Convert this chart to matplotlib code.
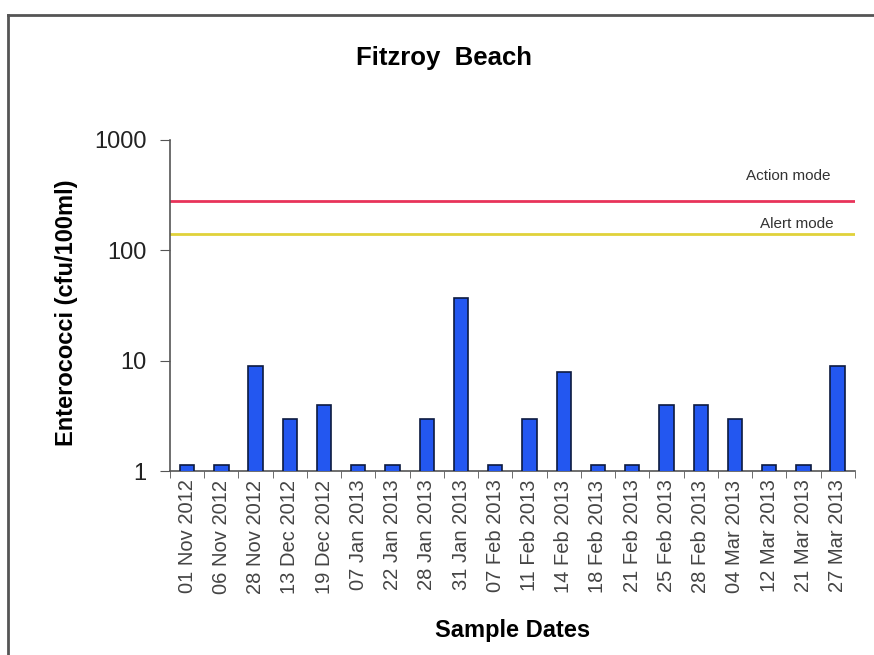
import matplotlib
matplotlib.use("Agg")
import matplotlib.pyplot as plt
from matplotlib.lines import Line2D
import numpy as np

plt.rcParams['font.family'] = ['Liberation Sans', 'DejaVu Sans']

dates = ["01 Nov 2012", "06 Nov 2012", "28 Nov 2012", "13 Dec 2012", "19 Dec 2012",
         "07 Jan 2013", "22 Jan 2013", "28 Jan 2013", "31 Jan 2013", "07 Feb 2013",
         "11 Feb 2013", "14 Feb 2013", "18 Feb 2013", "21 Feb 2013", "25 Feb 2013",
         "28 Feb 2013", "04 Mar 2013", "12 Mar 2013", "21 Mar 2013", "27 Mar 2013"]
enterococci = [1.15, 1.15, 9, 3, 4, 1.15, 1.15, 3, 37, 1.15,
               3, 8, 1.15, 1.15, 4, 4, 3, 1.15, 1.15, 9]
action_level = 280
alert_level = 140

fig = plt.figure(figsize=(8.74, 6.55), dpi=100)
ax = fig.add_axes([0.1945, 0.2805, 0.7835, 0.506])

x = np.arange(len(dates))
ax.bar(x, enterococci, width=0.42, color='#2357f0', edgecolor='#0d1a40',
       linewidth=1.2, zorder=3)
ax.set_yscale('log')
ax.set_ylim(1, 1000)
ax.set_xlim(-0.5, len(dates) - 0.5)

ax.axhline(action_level, color='#e8335a', lw=2, zorder=2)
ax.axhline(alert_level, color='#e0d23a', lw=2, zorder=2)
ax.text(17.57, 470, "Action mode", ha='center', va='center',
        fontsize=11, color='#333333')
ax.text(17.8, 174, "Alert mode", ha='center', va='center',
        fontsize=11, color='#333333')

ax.set_yticks([1, 10, 100, 1000])
ax.set_yticklabels(["1", "10", "100", "1000"], fontsize=17, color='#222222')
ax.yaxis.set_minor_locator(matplotlib.ticker.NullLocator())
ax.tick_params(axis='y', length=7, color='#555555', pad=10)

ax.set_xticks(x)
ax.set_xticklabels(dates, rotation=90, fontsize=14.5, color='#444444')
ax.tick_params(axis='x', length=0, pad=6)
ax.set_xticks(np.arange(-0.5, len(dates), 1), minor=True)
ax.tick_params(axis='x', which='minor', length=5, color='#555555')

for s in ['top', 'right']:
    ax.spines[s].set_visible(False)
for s in ['left', 'bottom']:
    ax.spines[s].set_color('#555555')
    ax.spines[s].set_linewidth(1.2)

ax.set_ylabel("Enterococci (cfu/100ml)", fontsize=17, fontweight='bold')
ax.yaxis.set_label_coords(-0.135, 0.479)
ax.set_xlabel("Sample Dates", fontsize=17, fontweight='bold', labelpad=18)
fig.text(0.508, 0.911, "Fitzroy  Beach", ha='center', va='center',
         fontsize=18.5, fontweight='bold')

# frame lines of the picture
fig.add_artist(Line2D([0.009, 0.009], [0, 0.977], transform=fig.transFigure,
                      color='#555555', lw=2))
fig.add_artist(Line2D([0.009, 1], [0.977, 0.977], transform=fig.transFigure,
                      color='#555555', lw=2))

fig.savefig("out.png", dpi=100)
